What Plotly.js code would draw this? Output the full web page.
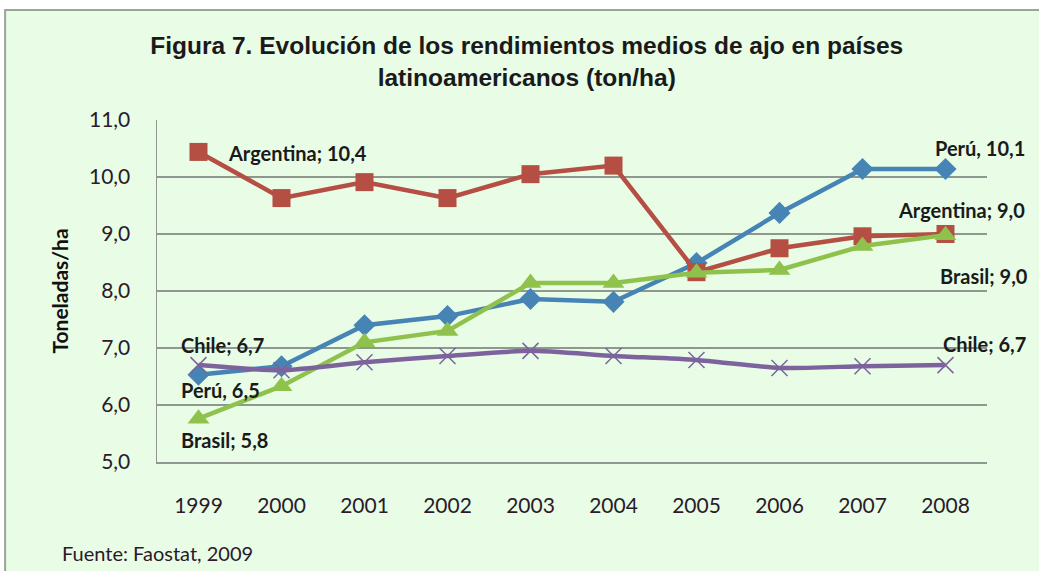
<!DOCTYPE html>
<html>
<head>
<meta charset="utf-8">
<script src="https://cdn.plot.ly/plotly-3.0.1.min.js"></script>
<style>
  body { margin: 0; background: #ffffff; }
  #chart { width: 1039px; height: 571px; }
</style>
</head>
<body>
<div id="chart"></div>
<script>
// Rendimientos medios de ajo (ton/ha), Faostat 2009
const years = ['1999', '2000', '2001', '2002', '2003', '2004', '2005', '2006', '2007', '2008'];
const peru = [6.53, 6.68, 7.40, 7.56, 7.86, 7.81, 8.49, 9.37, 10.14, 10.14];
const argentina = [10.44, 9.63, 9.91, 9.63, 10.05, 10.20, 8.33, 8.75, 8.96, 9.00];
const brasil = [5.76, 6.33, 7.10, 7.30, 8.14, 8.14, 8.32, 8.37, 8.79, 8.98];
const chile = [6.70, 6.61, 6.75, 6.86, 6.95, 6.86, 6.79, 6.65, 6.68, 6.70];

const gridColor = '#8e988e';
const textFamily = 'Lato, "Open Sans", sans-serif';
const labelFont = {family: textFamily, size: 20, color: '#1a1a1a', weight: 'bold'};

function fmt(v) {
    return v.toFixed(1).replace('.', ',');
}

// data labels on first and last points
function label(name, sep, values, i, xshift, yshift) {
    return {
        x: i, y: values[i],
        xref: 'x', yref: 'y',
        text: name + sep + ' ' + fmt(values[i]),
        showarrow: false,
        xanchor: 'left', yanchor: 'middle',
        xshift: xshift, yshift: yshift,
        font: labelFont
    };
}

const last = years.length - 1;

const traces = [
    {
        x: years, y: peru, name: 'Perú', type: 'scatter', mode: 'lines+markers',
        line: {color: '#4684b5', width: 4.5},
        marker: {symbol: 'diamond', size: 17, color: '#4684b5'}
    },
    {
        x: years, y: argentina, name: 'Argentina', type: 'scatter', mode: 'lines+markers',
        line: {color: '#b54e43', width: 4.5},
        marker: {symbol: 'square', size: 18, color: '#b54e43'}
    },
    {
        x: years, y: brasil, name: 'Brasil', type: 'scatter', mode: 'lines+markers',
        line: {color: '#8fc24c', width: 4.5},
        marker: {symbol: 'triangle-up', size: 19, color: '#8fc24c'}
    },
    {
        x: years, y: chile, name: 'Chile', type: 'scatter', mode: 'lines+markers',
        line: {color: '#7d639d', width: 4.5, shape: 'spline', smoothing: 0.6},
        marker: {symbol: 'x-thin-open', size: 16, line: {color: '#8e88b2', width: 1.5}}
    }
];

const layout = {
    width: 1039, height: 571,
    margin: {l: 157, r: 52, t: 120, b: 109},
    paper_bgcolor: '#ffffff',
    plot_bgcolor: 'rgba(0,0,0,0)',
    showlegend: false,
    title: {
        text: '<b>Figura 7. Evolución de los rendimientos medios de ajo en países<br>latinoamericanos (ton/ha)</b>',
        font: {family: '"Liberation Sans Narrow", "Liberation Sans", Arial, sans-serif', size: 24.5, color: '#1a1a1a'},
        x: 0.507, xref: 'container', xanchor: 'center',
        y: 0.905, yref: 'container', yanchor: 'top'
    },
    xaxis: {
        type: 'category',
        range: [-0.5, 9.5],
        showgrid: false,
        showline: true, linecolor: gridColor, linewidth: 1.5,
        ticks: '',
        ticklabelstandoff: 24,
        tickfont: {family: textFamily, size: 21, color: '#2a1a2a'},
        fixedrange: true
    },
    yaxis: {
        range: [5, 11],
        dtick: 1,
        tickformat: '.1f',
        showgrid: true, gridcolor: gridColor, gridwidth: 1.5,
        zeroline: false,
        showline: true, linecolor: gridColor, linewidth: 1.5,
        ticks: '',
        ticklabelstandoff: 21,
        tickfont: {family: textFamily, size: 21, color: '#2a1a2a'},
        title: {
            text: '<b>Toneladas/ha</b>',
            font: {family: textFamily, size: 21, color: '#111111'},
            standoff: 14
        },
        fixedrange: true
    },
    separators: ',.',
    shapes: [
        {
            type: 'rect', xref: 'paper', yref: 'paper', layer: 'below',
            x0: -0.183, x1: 1.07, y0: -0.33, y1: 1.322,
            fillcolor: '#e8fce6',
            line: {color: '#9aa69a', width: 2}
        }
    ],
    annotations: [
        label('Argentina', ';', argentina, 0, 27, -1),
        label('Chile', ';', chile, 0, -20, 20),
        label('Perú', ',', peru, 0, -20, -15),
        label('Brasil', ';', brasil, 0, -20, -21),
        label('Perú', ',', peru, last, -13, 21),
        label('Argentina', ';', argentina, last, -50, 24),
        label('Brasil', ';', brasil, last, -8, -41),
        label('Chile', ';', chile, last, -5, 21),
        {
            xref: 'paper', yref: 'paper',
            text: 'Fuente: Faostat, 2009',
            showarrow: false, xanchor: 'left', yanchor: 'middle',
            font: {family: textFamily, size: 20, color: '#2a1a2a'}
        }
    ]
};

// place the source note in pixel terms of the paper
const plotW = 1039 - layout.margin.l - layout.margin.r;
const plotH = 571 - layout.margin.t - layout.margin.b;
layout.annotations[8].x = (60 - layout.margin.l) / plotW;
layout.annotations[8].y = (571 - layout.margin.b - 553) / plotH;

Plotly.newPlot('chart', traces, layout, {displayModeBar: false, staticPlot: true});
</script>
</body>
</html>
